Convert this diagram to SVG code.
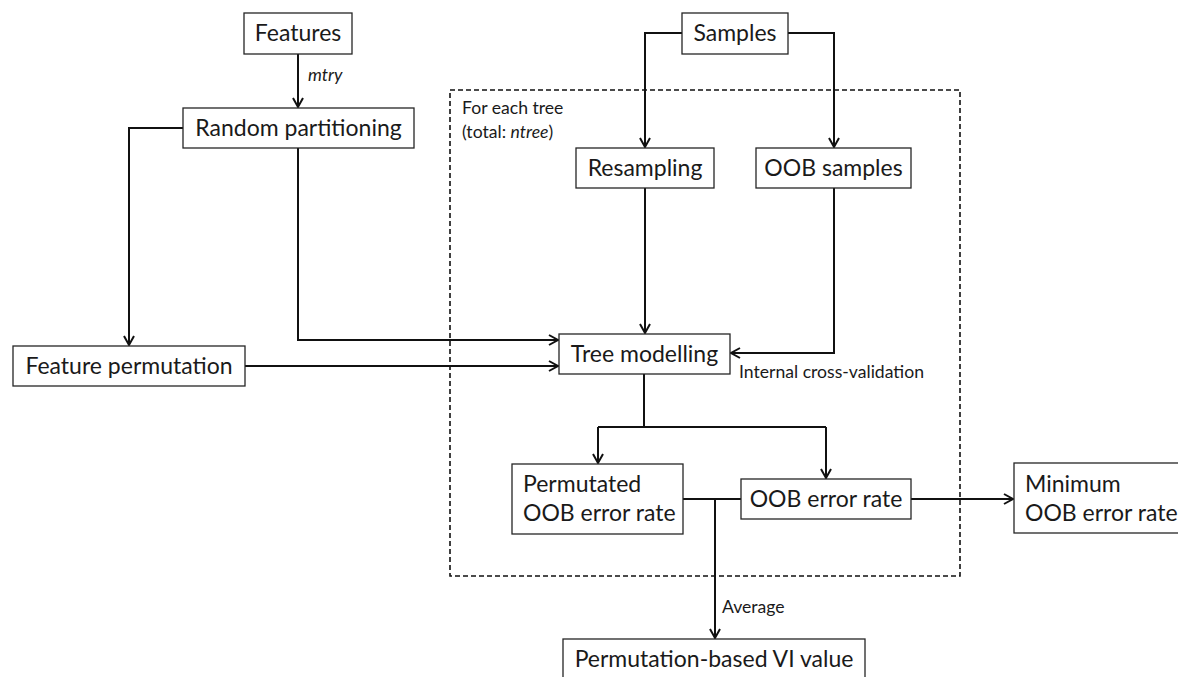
<svg xmlns="http://www.w3.org/2000/svg" width="1178" height="677" viewBox="0 0 1178 677">
  <style>
    .box { fill: #ffffff; stroke: #262626; stroke-width: 1.3; }
    .lbl { font-family: Lato, "Open Sans", sans-serif; font-size: 23px; fill: #1a1a1a; }
    .mid { text-anchor: middle; }
    .small { font-family: Lato, "Open Sans", sans-serif; font-size: 17.6px; fill: #1a1a1a; }
    .conn { fill: none; stroke: #111111; stroke-width: 2; }
    .frame { fill: none; stroke: #111111; stroke-width: 1.6; stroke-dasharray: 5 3; }
  </style>
  <defs>
    <marker id="arr" markerUnits="userSpaceOnUse" markerWidth="14" markerHeight="14" refX="10" refY="6" orient="auto">
      <path d="M1,1 L10,6 L1,11" fill="none" stroke="#111111" stroke-width="2"/>
    </marker>
  </defs>

  <rect width="1178" height="677" fill="#ffffff"/>

  <!-- dashed frame: one iteration per tree -->
  <g id="tree-loop">
    <rect class="frame" x="450" y="90" width="510" height="486"/>
    <text class="small" x="462" y="114">For each tree</text>
    <text class="small" x="462" y="138">(total: <tspan font-style="italic">ntree</tspan>)</text>
  </g>

  <g id="connectors">
    <path class="conn" d="M298,54 V107" marker-end="url(#arr)"/>
    <path class="conn" d="M183,128 H129 V345" marker-end="url(#arr)"/>
    <path class="conn" d="M298,148 V340 H558" marker-end="url(#arr)"/>
    <path class="conn" d="M245,366 H558" marker-end="url(#arr)"/>
    <path class="conn" d="M682,33 H645 V147" marker-end="url(#arr)"/>
    <path class="conn" d="M788,33 H834 V147" marker-end="url(#arr)"/>
    <path class="conn" d="M645,188 V333" marker-end="url(#arr)"/>
    <path class="conn" d="M834,188 V353 H731" marker-end="url(#arr)"/>
    <path class="conn" d="M644,374 V427"/>
    <path class="conn" d="M598,427 H826"/>
    <path class="conn" d="M598,427 V463" marker-end="url(#arr)"/>
    <path class="conn" d="M826,427 V478" marker-end="url(#arr)"/>
    <path class="conn" d="M683,499 H741"/>
    <path class="conn" d="M715,499 V638" marker-end="url(#arr)"/>
    <path class="conn" d="M911,499 H1013" marker-end="url(#arr)"/>
    <text class="small" x="308" y="81" font-style="italic">mtry</text>
    <text class="small" x="739" y="378">Internal cross-validation</text>
    <text class="small" x="722" y="613">Average</text>
  </g>

  <g id="features">
    <rect class="box" x="244" y="13" width="108" height="41"/>
    <text class="lbl mid" x="298" y="41">Features</text>
  </g>
  <g id="random-partitioning">
    <rect class="box" x="183" y="108" width="231" height="40"/>
    <text class="lbl mid" x="298.5" y="136">Random partitioning</text>
  </g>
  <g id="samples">
    <rect class="box" x="682" y="13" width="106" height="41"/>
    <text class="lbl mid" x="735" y="41">Samples</text>
  </g>
  <g id="resampling">
    <rect class="box" x="576" y="148" width="138" height="40"/>
    <text class="lbl mid" x="645" y="176">Resampling</text>
  </g>
  <g id="oob-samples">
    <rect class="box" x="756" y="148" width="155" height="40"/>
    <text class="lbl mid" x="833.5" y="176">OOB samples</text>
  </g>
  <g id="feature-permutation">
    <rect class="box" x="13" y="346" width="232" height="40"/>
    <text class="lbl mid" x="129" y="374">Feature permutation</text>
  </g>
  <g id="tree-modelling">
    <rect class="box" x="559" y="334" width="171" height="40"/>
    <text class="lbl mid" x="644.5" y="362">Tree modelling</text>
  </g>
  <g id="permutated-oob-error">
    <rect class="box" x="512" y="464" width="171" height="70"/>
    <text class="lbl" x="523" y="492">Permutated</text>
    <text class="lbl" x="523" y="521">OOB error rate</text>
  </g>
  <g id="oob-error">
    <rect class="box" x="741" y="479" width="170" height="40"/>
    <text class="lbl mid" x="826" y="507">OOB error rate</text>
  </g>
  <g id="minimum-oob-error">
    <rect class="box" x="1014" y="463" width="180" height="70"/>
    <text class="lbl" x="1025" y="492">Minimum</text>
    <text class="lbl" x="1025" y="521">OOB error rate</text>
  </g>
  <g id="vi-value">
    <rect class="box" x="563" y="639" width="302" height="50"/>
    <text class="lbl mid" x="714" y="667">Permutation-based VI value</text>
  </g>
</svg>
